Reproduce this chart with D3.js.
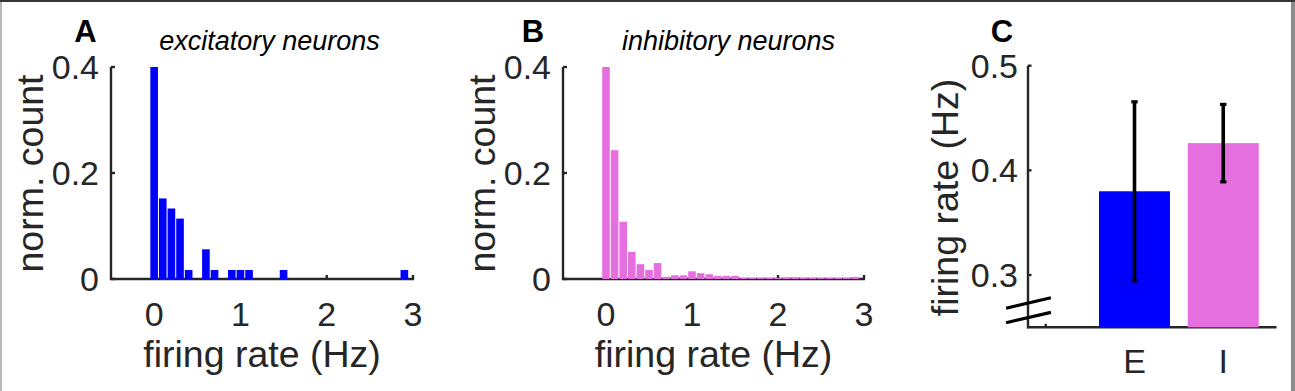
<!DOCTYPE html>
<html>
<head>
<meta charset="utf-8">
<script src="https://cdn.jsdelivr.net/npm/d3@7"></script>
<style>
  html, body { margin: 0; padding: 0; background: #fff; }
  svg { display: block; }
  text { font-family: "Liberation Sans", Arial, sans-serif; }
</style>
</head>
<body>
<svg id="chart" width="1295" height="391"></svg>
<script>
// ---------------- data ----------------
const binCentersE = [0, 0.1, 0.2, 0.3, 0.4, 0.5, 0.6, 0.7, 0.8, 0.9, 1.0, 1.1, 1.2, 1.3, 1.4, 1.5,
                     1.6, 1.7, 1.8, 1.9, 2.0, 2.1, 2.2, 2.3, 2.4, 2.5, 2.6, 2.7, 2.8, 2.9];
const countsE = [0.4, 0.152, 0.133, 0.114, 0.017, 0, 0.056, 0.017, 0, 0.017, 0.017, 0.017, 0, 0, 0, 0.017,
                 0, 0, 0, 0, 0, 0, 0, 0, 0, 0, 0, 0, 0, 0.017];
const binCentersI = binCentersE;
const countsI = [0.4, 0.243, 0.108, 0.051, 0.028, 0.017, 0.030, 0.004, 0.007, 0.007, 0.0145, 0.011, 0.009, 0.006, 0.006, 0.006,
                 0.002, 0.002, 0.002, 0.002, 0.002, 0.003, 0.003, 0.002, 0.002, 0.002, 0.002, 0.002, 0.002, 0.004];
const binWidth = 0.1;
const histXTicks = [0, 1, 2, 3];
const histYTicks = [0, 0.2, 0.4];
const histYTickLabels = ["0", "0.2", "0.4"];

const groups = ["E", "I"];
const groupPos = [1, 2];
const meanRate = [0.380, 0.426];
const errRate = [0.0855, 0.037];
const barYTicks = [0.3, 0.4, 0.5];
const barYTickLabels = ["0.3", "0.4", "0.5"];
const barXTicks = [0, 1, 2];
const barXTickLabels = ["", "E", "I"];

// ---------------- style ----------------
const axisColor = "#262626";
const blue = "#0000ff";
const pink = "#e66fe0";
const tickFont = 34;
const labelFont = 37.5;

const svg = d3.select("#chart");

// frame
svg.append("rect").attr("x", 0).attr("y", 0).attr("width", 1295).attr("height", 391).attr("fill", "#fff");
svg.append("rect").attr("x", 0).attr("y", 0).attr("width", 2).attr("height", 391).attr("fill", "#b8b8b8");
svg.append("rect").attr("x", 1291).attr("y", 0).attr("width", 4).attr("height", 391).attr("fill", "#8c8c8c");
svg.append("rect").attr("x", 0).attr("y", 0).attr("width", 1295).attr("height", 2).attr("fill", "#363636");

function histPanel(opts) {
  const x = d3.scaleLinear().domain([-0.5, 3]).range(opts.xRange);
  const y = d3.scaleLinear().domain([0, 0.4]).range([279, 67]);
  const g = svg.append("g");

  const [x0, x1] = x.range();
  g.append("line").attr("x1", x0).attr("x2", x0).attr("y1", y(0.4)).attr("y2", y(0) + 1)
    .attr("stroke", axisColor).attr("stroke-width", 2.4);
  g.append("line").attr("x1", x0 - 1).attr("x2", x1 + 1).attr("y1", y(0)).attr("y2", y(0))
    .attr("stroke", axisColor).attr("stroke-width", 2.4);

  g.selectAll(".yt").data(histYTicks).join("line")
    .attr("x1", x0).attr("x2", x0 + 4).attr("y1", d => y(d)).attr("y2", d => y(d))
    .attr("stroke", axisColor).attr("stroke-width", 2.4);
  g.selectAll(".xt").data(histXTicks).join("line")
    .attr("x1", d => x(d)).attr("x2", d => x(d)).attr("y1", y(0)).attr("y2", y(0) - 4)
    .attr("stroke", axisColor).attr("stroke-width", 2.4);

  g.selectAll(".ytl").data(histYTicks).join("text")
    .attr("x", x0 - 12).attr("y", (d) => y(d) + 12)
    .attr("text-anchor", "end").attr("font-size", tickFont).attr("fill", axisColor)
    .text((d, i) => histYTickLabels[i]);
  g.selectAll(".xtl").data(histXTicks).join("text")
    .attr("x", d => x(d)).attr("y", 326)
    .attr("text-anchor", "middle").attr("font-size", tickFont).attr("fill", axisColor)
    .text(d => d);

  const data = opts.centers.map((c, i) => ({ c, v: opts.counts[i] })).filter(d => d.v > 0);
  g.selectAll(".bar").data(data).join("rect")
    .attr("x", d => x(d.c - binWidth / 2) + 0.5)
    .attr("width", d => x(d.c + binWidth / 2) - x(d.c - binWidth / 2) - 1)
    .attr("y", d => y(d.v))
    .attr("height", d => y(0) - y(d.v))
    .attr("fill", opts.color);

  const cx = (x0 + x1) / 2;
  g.append("text").attr("x", cx).attr("y", 367).attr("text-anchor", "middle")
    .attr("font-size", labelFont).attr("fill", axisColor).text("firing rate (Hz)");
  g.append("text").attr("transform", `translate(${opts.yLabelX},${(y(0) + y(0.4)) / 2 + 0.5}) rotate(-90)`)
    .attr("text-anchor", "middle").attr("font-size", labelFont).attr("fill", axisColor).text("norm. count");

  g.append("text").attr("x", opts.titleX).attr("y", 50).attr("text-anchor", "middle")
    .attr("font-size", 27).attr("font-style", "italic").attr("fill", "#000").text(opts.title);
  g.append("text").attr("x", opts.letterX).attr("y", 42).attr("text-anchor", "middle")
    .attr("font-size", 31).attr("font-weight", "bold").attr("fill", "#000").text(opts.letter);
}

histPanel({ xRange: [111, 413], centers: binCentersE, counts: countsE, color: blue,
  title: "excitatory neurons", titleX: 269.5, letter: "A", letterX: 85.5, yLabelX: 43 });
histPanel({ xRange: [563, 864], centers: binCentersI, counts: countsI, color: pink,
  title: "inhibitory neurons", titleX: 728.5, letter: "B", letterX: 533, yLabelX: 495 });

// ---------------- panel C ----------------
(function () {
  const x = d3.scaleLinear().domain([-0.2, 2.6]).range([1028, 1276.5]);
  const y = d3.scaleLinear().domain([0.25, 0.5]).range([327.3, 65.7]);
  const g = svg.append("g");
  const [x0, x1] = x.range();
  const colors = [blue, pink];
  const barW = 0.8;

  g.append("line").attr("x1", x0).attr("x2", x0).attr("y1", y(0.5)).attr("y2", y(0.25) + 1)
    .attr("stroke", axisColor).attr("stroke-width", 2.4);
  g.append("line").attr("x1", x0 - 1).attr("x2", x1).attr("y1", y(0.25)).attr("y2", y(0.25))
    .attr("stroke", axisColor).attr("stroke-width", 2.4);

  g.selectAll(".yt").data(barYTicks).join("line")
    .attr("x1", x0).attr("x2", x0 + 3.5).attr("y1", d => y(d)).attr("y2", d => y(d))
    .attr("stroke", axisColor).attr("stroke-width", 2.4);
  g.selectAll(".xt").data(barXTicks).join("line")
    .attr("x1", d => x(d)).attr("x2", d => x(d)).attr("y1", y(0.25)).attr("y2", y(0.25) - 3.5)
    .attr("stroke", axisColor).attr("stroke-width", 2.4);

  g.selectAll(".ytl").data(barYTicks).join("text")
    .attr("x", x0 - 10).attr("y", d => y(d) + 12)
    .attr("text-anchor", "end").attr("font-size", tickFont).attr("fill", axisColor)
    .text((d, i) => barYTickLabels[i]);
  g.selectAll(".xtl").data(barXTicks).join("text")
    .attr("x", d => x(d)).attr("y", 373)
    .attr("text-anchor", "middle").attr("font-size", tickFont).attr("fill", axisColor)
    .text((d, i) => barXTickLabels[i]);

  const data = groups.map((k, i) => ({ k, p: groupPos[i], m: meanRate[i], e: errRate[i], c: colors[i] }));
  g.selectAll(".bar").data(data).join("rect")
    .attr("x", d => x(d.p - barW / 2))
    .attr("width", d => x(d.p + barW / 2) - x(d.p - barW / 2))
    .attr("y", d => y(d.m))
    .attr("height", d => y(0.25) - y(d.m))
    .attr("fill", d => d.c);

  g.selectAll(".eb").data(data).join("line")
    .attr("x1", d => x(d.p)).attr("x2", d => x(d.p))
    .attr("y1", d => y(d.m + d.e)).attr("y2", d => y(d.m - d.e))
    .attr("stroke", "#000").attr("stroke-width", 3.6);
  const capHalf = 0.036;
  ["+", "-"].forEach(s => {
    g.selectAll(".cap" + (s === "+" ? "p" : "m")).data(data).join("line")
      .attr("x1", d => x(d.p - capHalf)).attr("x2", d => x(d.p + capHalf))
      .attr("y1", d => y(s === "+" ? d.m + d.e : d.m - d.e))
      .attr("y2", d => y(s === "+" ? d.m + d.e : d.m - d.e))
      .attr("stroke", "#000").attr("stroke-width", 3.2);
  });

  const breakMarks = [
    [[-0.447, 0.2682], [0.058, 0.2783]],
    [[-0.447, 0.2544], [0.058, 0.2643]]
  ];
  g.selectAll(".brk").data(breakMarks).join("line")
    .attr("x1", d => x(d[0][0])).attr("y1", d => y(d[0][1]))
    .attr("x2", d => x(d[1][0])).attr("y2", d => y(d[1][1]))
    .attr("stroke", "#000").attr("stroke-width", 3.2);

  g.append("text").attr("transform", `translate(958,${197.5}) rotate(-90)`)
    .attr("text-anchor", "middle").attr("font-size", labelFont).attr("fill", axisColor).text("firing rate (Hz)");
  g.append("text").attr("x", 1002).attr("y", 42).attr("text-anchor", "middle")
    .attr("font-size", 31).attr("font-weight", "bold").attr("fill", "#000").text("C");
})();
</script>
</body>
</html>
